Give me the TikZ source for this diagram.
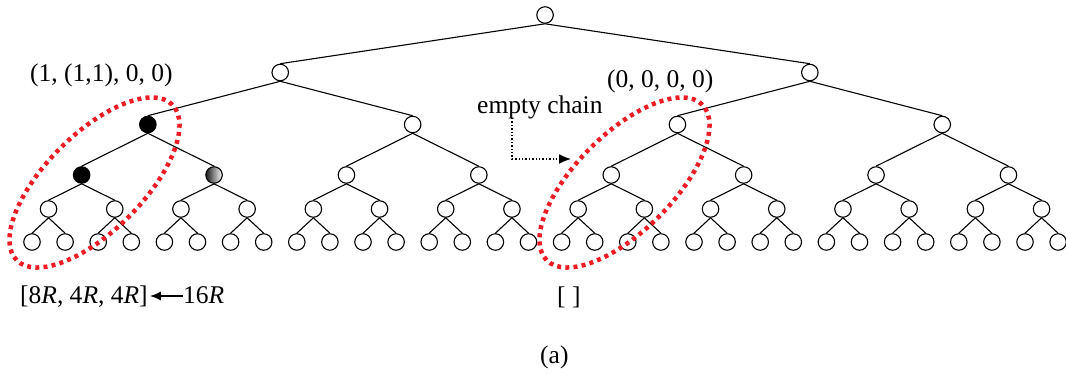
\documentclass[tikz,border=0pt]{standalone}
\usepackage{fontspec}
\setmainfont{Liberation Serif}
\usetikzlibrary{arrows.meta,shadings}
\definecolor{chainred}{HTML}{EC1C24}
\begin{document}
\begin{tikzpicture}[x=1pt,y=-1pt,
  tn/.style={circle,draw,line width=1.1pt,minimum size=16.5pt,inner sep=0pt,fill=white},
  edge/.style={line width=1.1pt},
  chain/.style={draw=chainred,line width=4.5pt,dash pattern=on 4pt off 4.2pt},
  lbl/.style={font=\fontsize{25.5}{30}\selectfont,inner sep=0pt},
  s-2-0/.style={fill=black},
  s-3-0/.style={fill=black},
  s-3-1/.style={left color=black!90,right color=white}]
\useasboundingbox (0,0) rectangle (1066,374);
% tree nodes
\foreach \k/\yy in {0/15,1/72.5,2/124.5,3/175,4/209,5/242} {
  \pgfmathtruncatemacro\cnt{2^\k}
  \pgfmathtruncatemacro\last{\cnt-1}
  \pgfmathtruncatemacro\spn{2^(5-\k)}
  \foreach \j in {0,...,\last} {
    \pgfmathsetmacro\xx{32+33.1*(\j*\spn+(\spn-1)/2)}
    \node[tn,s-\k-\j/.try] (n-\k-\j) at (\xx,\yy) {};
  }
}
% edges
\foreach \k in {1,...,5} {
  \pgfmathtruncatemacro\last{2^\k-1}
  \pgfmathtruncatemacro\pk{\k-1}
  \foreach \j in {0,...,\last} {
    \pgfmathtruncatemacro\pj{floor(\j/2)}
    \draw[edge] (n-\pk-\pj.south) -- (n-\k-\j.north);
  }
}
% red chains
\coordinate (c1) at (94.5,182.5);
\coordinate (c2) at (624.5,182.5);
\draw[chain,rotate around={45:(c1)}] (c1) ellipse (110pt and 48.5pt);
\draw[chain,rotate around={45:(c2)}] (c2) ellipse (110pt and 48.5pt);
% labels
\node[lbl,anchor=base west] (t1) at (30,82) {(1, (1,1), 0, 0)};
\node[lbl,anchor=base west] (t2) at (607,87.5) {(0, 0, 0, 0)};
\node[lbl,anchor=base west] (ec) at (477,114) {empty chain};
\node[lbl,anchor=base west] (brk) at (20,303) {[8\textit{R}, 4\textit{R}, 4\textit{R}]};
\node[lbl,anchor=base west] (r16) at (183,303) {16\textit{R}};
\node[lbl,anchor=base west] (emp) at (557,304) {[ ]};
\node[lbl,anchor=base west] (cap) at (540,363) {(a)};
% arrows
\coordinate (ea) at (512,118);
\coordinate (eb) at (571,159);
\draw[line width=1.4pt,dotted,-{Latex[length=12pt,width=10pt]}] (ea) |- (eb);
\draw[line width=1.6pt,-{Latex[length=11pt,width=9pt]}] ([yshift=7pt]r16.base west) -- ([yshift=7pt,xshift=2pt]brk.base east);
\end{tikzpicture}
\end{document}
